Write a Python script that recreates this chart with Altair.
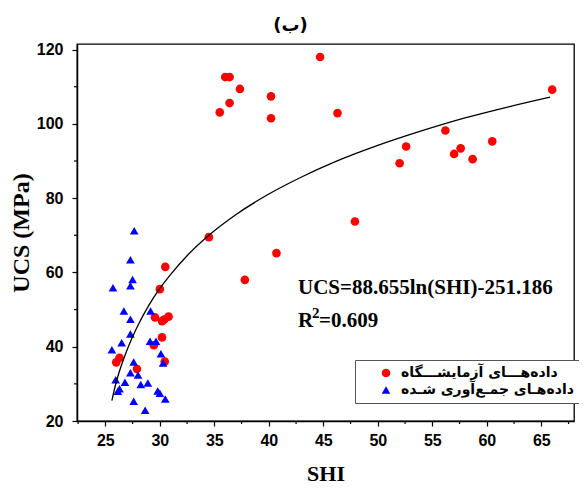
import altair as alt
import pandas as pd

# ---- data ----
lab_x = [44.7, 36.0, 36.4, 37.35, 36.4, 35.5, 40.2, 40.2, 46.3, 66.0, 56.2, 60.5,
         57.6, 57.0, 58.7, 52.6, 52.0, 47.9, 34.5, 40.7, 37.8, 30.5, 30.0, 29.55,
         30.2, 30.8, 30.4, 30.2, 29.45, 26.3, 26.0, 27.9, 30.45]
lab_y = [118.0, 112.6, 112.6, 109.4, 105.6, 103.1, 107.4, 101.5, 102.9, 109.2, 98.2, 95.3,
         93.4, 91.9, 90.5, 93.9, 89.4, 73.7, 69.5, 65.2, 58.0, 61.5, 55.5, 47.9,
         46.9, 48.1, 47.3, 42.5, 40.4, 37.0, 35.8, 34.0, 36.0]

col_x = [27.65, 27.3, 27.5, 27.3, 25.7, 26.7, 27.3, 29.15, 27.3, 26.5, 25.6, 29.1,
         29.65, 30.1, 30.3, 27.6, 27.3, 28.0, 25.95, 26.8, 28.25, 28.9, 26.3, 26.15,
         29.8, 30.0, 30.5, 27.6, 28.65]
col_y = [71.2, 63.4, 58.1, 56.4, 55.9, 49.6, 47.4, 49.6, 43.4, 41.1, 39.2, 41.5,
         41.5, 38.1, 35.6, 35.9, 33.0, 32.4, 31.1, 30.4, 29.8, 30.2, 28.7, 28.0,
         28.1, 27.5, 25.9, 25.3, 22.9]

fit_x = [25.6, 26.0, 26.5, 27.0, 27.5, 28.0, 29.0, 30.0, 31.0, 32.5, 34.5, 37.0,
         40.0, 43.0, 46.0, 50.0, 54.0, 58.0, 62.0, 65.8]
fit_y = [25.5, 30.5, 35.2, 39.2, 42.7, 45.8, 51.2, 55.7, 59.5, 64.5, 70.0, 75.6,
         81.1, 85.7, 89.7, 94.2, 98.1, 101.6, 104.6, 107.2]

x_major = [25, 30, 35, 40, 45, 50, 55, 60, 65]
x_minor = [22.5, 27.5, 32.5, 37.5, 42.5, 47.5, 52.5, 57.5, 62.5, 67.5]
y_major = [20, 40, 60, 80, 100, 120]
y_minor = [30, 50, 70, 90, 110]

LAB = "داده‌هـــای آزمایشـــگاه"
COL = "داده‌هـای جمـع‌آوری شـده"
TITLE = "(ب)"
EQ = "UCS=88.655ln(SHI)-251.186"
R_TXT = ["R", "2", "=0.609"]
eq_pos = [42.68, 54.2]
r_pos = [42.68, 45.3]

# ---- chart ----
W, H = 497, 377
xs = alt.Scale(domain=[22.4, 68], nice=False, zero=False)
ys = alt.Scale(domain=[20, 121.5], nice=False, zero=False)

pts = pd.DataFrame({
    "SHI": lab_x + col_x,
    "UCS": lab_y + col_y,
    "group": [LAB] * len(lab_x) + [COL] * len(col_x),
})

leg = alt.Legend(
    title=None, orient="none", legendX=278, legendY=316, direction="vertical",
    strokeColor="#555555", fillColor="white", padding=6, symbolOffset=18,
    labelFont="DejaVu Sans", labelFontWeight="bold", labelFontSize=14,
    labelColor="black", symbolSize=75, symbolStrokeWidth=0, rowPadding=3,
    labelLimit=400, labelOffset=8,
)

points = alt.Chart(pts).mark_point(filled=True, opacity=1, size=75, strokeWidth=0).encode(
    x=alt.X("SHI:Q", scale=xs, axis=alt.Axis(values=x_major, title="SHI", labelPadding=6,
                                             titlePadding=15, format="d", titleFontSize=22)),
    y=alt.Y("UCS:Q", scale=ys, axis=alt.Axis(values=y_major, title="UCS (MPa)", labelPadding=9,
                                             titlePadding=3, format="d", titleFontSize=24)),
    color=alt.Color("group:N", scale=alt.Scale(domain=[LAB, COL], range=["#ff0000", "#0000ff"]),
                    legend=leg),
    shape=alt.Shape("group:N", scale=alt.Scale(domain=[LAB, COL], range=["circle", "triangle-up"]),
                    legend=leg),
)

fit = alt.Chart(pd.DataFrame({"SHI": fit_x, "UCS": fit_y})).mark_line(
    color="black", strokeWidth=1.3, interpolate="monotone"
).encode(
    x=alt.X("SHI:Q", scale=xs),
    y=alt.Y("UCS:Q", scale=ys),
)

xm = alt.Chart(pd.DataFrame({"SHI": x_minor})).mark_rule(color="black", strokeWidth=1.2).encode(
    x=alt.X("SHI:Q", scale=xs), y=alt.value(H), y2=alt.value(H + 3)
)
ym = alt.Chart(pd.DataFrame({"UCS": y_minor})).mark_rule(color="black", strokeWidth=1.2).encode(
    y=alt.Y("UCS:Q", scale=ys), x=alt.value(0), x2=alt.value(-3)
)

def txt(pos, t, size, dx=0, dy=0):
    return alt.Chart(pd.DataFrame({"SHI": [pos[0]], "UCS": [pos[1]], "t": [t]})).mark_text(
        align="left", baseline="alphabetic", font="Liberation Serif", fontWeight="bold",
        fontSize=size, color="black", dx=dx, dy=dy
    ).encode(
        x=alt.X("SHI:Q", scale=xs),
        y=alt.Y("UCS:Q", scale=ys),
        text="t:N",
    )

eq = txt(eq_pos, EQ, 21)
r1 = txt(r_pos, R_TXT[0], 21)
r2 = txt(r_pos, R_TXT[1], 15, dx=14, dy=-9)
r3 = txt(r_pos, R_TXT[2], 21, dx=21)

chart = alt.layer(points, fit, xm, ym, eq, r1, r2, r3).properties(
    width=W, height=H,
    title=alt.TitleParams(TITLE, font="DejaVu Sans", fontSize=18, fontWeight="bold",
                          anchor="middle", dx=-35, dy=19, offset=12, baseline="alphabetic",
                          color="black"),
    autosize=alt.AutoSizeParams(type="none"),
    padding={"left": 69, "top": 36, "right": 5, "bottom": 66},
).configure_view(
    stroke="black", strokeWidth=1.3
).configure_axis(
    grid=False, domainColor="black", domainWidth=1.5, tickColor="black", tickWidth=1.2,
    tickSize=5, labelFont="Liberation Sans", labelFontWeight="bold", labelFontSize=16,
    labelColor="black", titleFont="Liberation Serif", titleFontWeight="bold",
    titleColor="black",
)

chart.save("out.html", embed_options={"renderer": "svg", "actions": False})
